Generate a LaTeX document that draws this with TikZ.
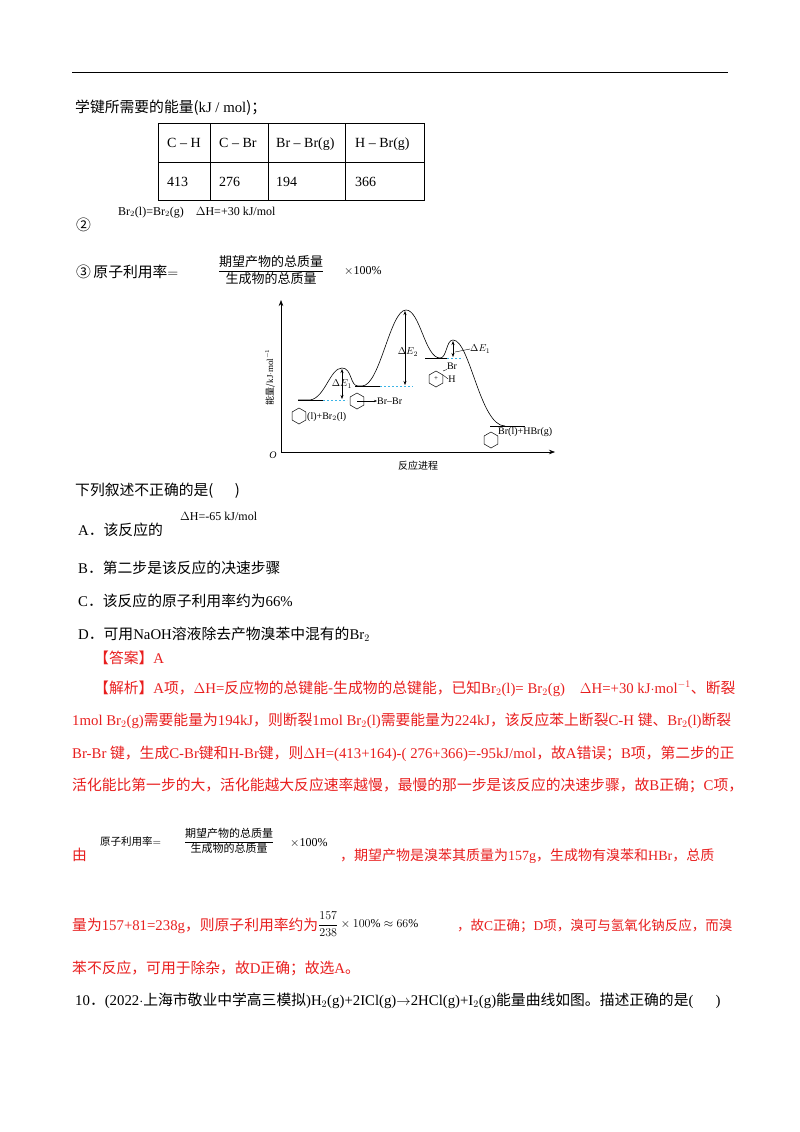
\documentclass[tikz,border=0pt]{standalone}
\usepackage{amsmath}
\usepackage{fontspec}
\setmainfont{Liberation Serif}
\newfontfamily\cjk{Noto Sans CJK SC}
\usetikzlibrary{arrows.meta}
\definecolor{redt}{RGB}{232,30,30}
\definecolor{cyanl}{RGB}{60,180,230}
\tikzset{
 t/.style={anchor=base west,inner sep=0pt,font=\fontsize{14.8}{16}\selectfont},
 rt/.style={t,text=redt},
 sm/.style={inner sep=0pt,font=\fontsize{10}{11}\selectfont},
 fr/.style={inner sep=0pt,font=\fontsize{13}{14}\selectfont},
 dl/.style={cyanl,dashed,line width=0.8pt,dash pattern=on 2pt off 2pt},
 lev/.style={line width=0.9pt},
 da/.style={-{Stealth[length=4pt]},line width=0.5pt},
 benz/.pic={\draw[line width=0.5pt] (30:8)--(90:8)--(150:8)--(210:8)--(270:8)--(330:8)--cycle;}
}
\begin{document}
\begin{tikzpicture}[x=1pt,y=-1pt]
\useasboundingbox (0,0) rectangle (800,1132);
\draw[line width=0.8pt] (72,72) -- (728,72);
\node[t] (l1) at (75,112) {\cjk 学键所需要的能量(\rmfamily kJ / mol\cjk )；};
% table
\draw[line width=0.6pt] (158,123) rectangle (424,200) (158,162)--(424,162)
 (210,123)--(210,200) (268,123)--(268,200) (345,123)--(345,200);
\node[t,font=\fontsize{14}{15}\selectfont] (h1) at (167,147) {C -- H};
\node[t,font=\fontsize{14}{15}\selectfont] (h2) at (219,147) {C -- Br};
\node[t,font=\fontsize{14}{15}\selectfont] (h3) at (276,147) {Br -- Br(g)};
\node[t,font=\fontsize{14}{15}\selectfont] (h4) at (355,147) {H -- Br(g)};
\node[t,font=\fontsize{14}{15}\selectfont] (v1) at (167,186) {413};
\node[t,font=\fontsize{14}{15}\selectfont] (v2) at (219,186) {276};
\node[t,font=\fontsize{14}{15}\selectfont] (v3) at (276,186) {194};
\node[t,font=\fontsize{14}{15}\selectfont] (v4) at (355,186) {366};
\node[t] (c2) at (76,230) {\cjk ②};
\node[t,font=\fontsize{12}{13}\selectfont] (e2) at (118,215) {Br$_2$(l)=Br$_2$(g)\quad $\Delta$H=+30 kJ/mol};
\node[t] (c3) at (76,277) {\cjk ③\,原子利用率$=$};
\node[fr] (fr) at (271,270) {$\dfrac{\text{\cjk 期望产物的总质量}}{\text{\cjk 生成物的总质量}}$};
\node[t,font=\fontsize{12}{13}\selectfont] (pc) at (344,274) {$\times$100\%};
% diagram
\draw[-{Stealth[length=6pt]},line width=0.6pt] (281,452)--(281,300);
\draw[-{Stealth[length=6pt]},line width=0.6pt] (281,452)--(555,452);
\node[sm,font=\itshape\fontsize{10}{11}\selectfont] (o) at (273,455) {O};
\node[sm,rotate=90,font=\fontsize{9}{10}\selectfont] (yl) at (270,377) {\cjk 能量/\rmfamily kJ$\cdot$mol$^{-1}$};
\node[sm] (xl) at (418,466) {\cjk 反应进程};
\draw[line width=0.6pt] (298,400)--(310,400) .. controls (325,398) and (330,368) .. (342,368)
 .. controls (352,368) and (350,386) .. (358,386) -- (362,386)
 .. controls (380,386) and (390,310) .. (406,310)
 .. controls (420,310) and (425,358) .. (440,358)
 .. controls (447,358) and (446,340) .. (453,340)
 .. controls (470,340) and (480,426) .. (505,426);
\draw[lev] (298,400)--(323,400) (355,386)--(380,386) (425,358)--(447,358) (490,426)--(525,426);
\draw[dl] (323,400)--(347,400) (380,386)--(413,386) (447,358)--(463,358);
\draw[da,{Stealth[length=4pt]}-{Stealth[length=4pt]}] (342,369)--(342,399);
\draw[da,{Stealth[length=4pt]}-{Stealth[length=4pt]}] (405,311)--(405,385);
\draw[da,{Stealth[length=4pt]}-{Stealth[length=4pt]}] (453,341)--(453,357);
\node[sm] (de1) at (342,384) {$\Delta E_1$};
\node[sm] (de2) at (408,352) {$\Delta E_2$};
\node[sm,anchor=west] (de3) at (470,349) {$\Delta E_1$};
\draw[line width=0.4pt] (455,352)--(de3.west);
\pic at (299,416) {benz};
\node[sm,anchor=west] (m1) at (307,417) {(l)+Br$_2$(l)};
\pic at (357,401) {benz};
\node[sm,anchor=west] (m2) at (377,401) {Br--Br};
\draw[-{Stealth[length=3pt]},line width=0.4pt] (357,401)--(m2.west);
\pic at (436,379) {benz};
\node[sm,font=\fontsize{7}{8}\selectfont] (pl) at (436,379) {+};
\node[sm] (br3) at (452,366) {Br};
\node[sm] (h3b) at (452,379) {H};
\draw[line width=0.4pt] (443,375)--(h3b.west) (443,371)--(br3.south west);
\pic at (491,440) {benz};
\node[sm,anchor=west] (m4) at (498,432) {Br(l)+HBr(g)};
% options
\node[t] (q) at (75,495) {\cjk 下列叙述不正确的是(\quad\ \ )};
\node[t] (a) at (78,535) {A\cjk ．该反应的};
\node[t,font=\fontsize{12}{13}\selectfont] (a2) at (180,520) {$\Delta$H=-65 kJ/mol};
\node[t] (b) at (78,573) {B\cjk ．第二步是该反应的决速步骤};
\node[t] (c) at (78,606) {C\cjk ．该反应的原子利用率约为\rmfamily 66\%};
\node[t] (d) at (78,639) {D\cjk ．可用\rmfamily NaOH\cjk 溶液除去产物溴苯中混有的\rmfamily Br$_2$};
\node[rt] (ans) at (94,663) {\cjk 【答案】\rmfamily A};
\node[rt] (j1) at (94,693) {\cjk 【解析】\rmfamily A\cjk 项，\rmfamily $\Delta$H=\cjk 反应物的总键能-生成物的总键能，已知\rmfamily Br$_2$(l)= Br$_2$(g)\quad $\Delta$H=+30 kJ$\cdot$mol$^{-1}$\cjk 、断裂};
\node[rt] (j2) at (72,725) {1mol Br$_2$(g)\cjk 需要能量为\rmfamily 194kJ\cjk ，则断裂\rmfamily 1mol Br$_2$(l)\cjk 需要能量为\rmfamily 224kJ\cjk ，该反应苯上断裂\rmfamily C-H \cjk 键、\rmfamily Br$_2$(l)\cjk 断裂};
\node[rt] (j3) at (72,758) {Br-Br \cjk 键，生成\rmfamily C-Br\cjk 键和\rmfamily H-Br\cjk 键，则\rmfamily $\Delta$H=(413+164)-( 276+366)=-95kJ/mol\cjk ，故\rmfamily A\cjk 错误；\rmfamily B\cjk 项，第二步的正};
\node[rt] (j4) at (72,790) {\cjk 活化能比第一步的大，活化能越大反应速率越慢，最慢的那一步是该反应的决速步骤，故\rmfamily B\cjk 正确；\rmfamily C\cjk 项，};
\node[rt] (j5) at (72,860) {\cjk 由};
\node[t,text=black,font=\fontsize{10.5}{12}\selectfont] (f2a) at (100,845) {\cjk 原子利用率$=$};
\node[fr,font=\fontsize{11}{12}\selectfont] (fr2) at (229,841) {$\dfrac{\text{\cjk 期望产物的总质量}}{\text{\cjk 生成物的总质量}}$};
\node[t,font=\fontsize{12}{13}\selectfont] (pc2) at (290,846) {$\times$100\%};
\node[rt,font=\fontsize{14}{15}\selectfont] (j5b) at (340,860) {\cjk ，期望产物是溴苯其质量为\rmfamily 157g\cjk ，生成物有溴苯和\rmfamily HBr\cjk ，总质};
\node[rt] (j6) at (72,930) {\cjk 量为\rmfamily 157+81=238g\cjk ，则原子利用率约为};
\node[t,text=black,font=\fontsize{12}{13}\selectfont,anchor=west] (f3) at (318,924) {$\dfrac{157}{238}\times100\%\approx66\%$};
\node[rt,font=\fontsize{13.5}{15}\selectfont] (j6b) at (457,930) {\cjk ，故\rmfamily C\cjk 正确；\rmfamily D\cjk 项，溴可与氢氧化钠反应，而溴};
\node[rt] (j7) at (72,973) {\cjk 苯不反应，可用于除杂，故\rmfamily D\cjk 正确；故选\rmfamily A\cjk 。};
\node[t] (q10) at (75,1005) {10\cjk ．\rmfamily (2022$\cdot$\cjk 上海市敬业中学高三模拟\rmfamily )H$_2$(g)+2ICl(g)$\rightarrow$2HCl(g)+I$_2$(g)\cjk 能量曲线如图。描述正确的是\rmfamily (\quad\ \ )};
\end{tikzpicture}
\end{document}
